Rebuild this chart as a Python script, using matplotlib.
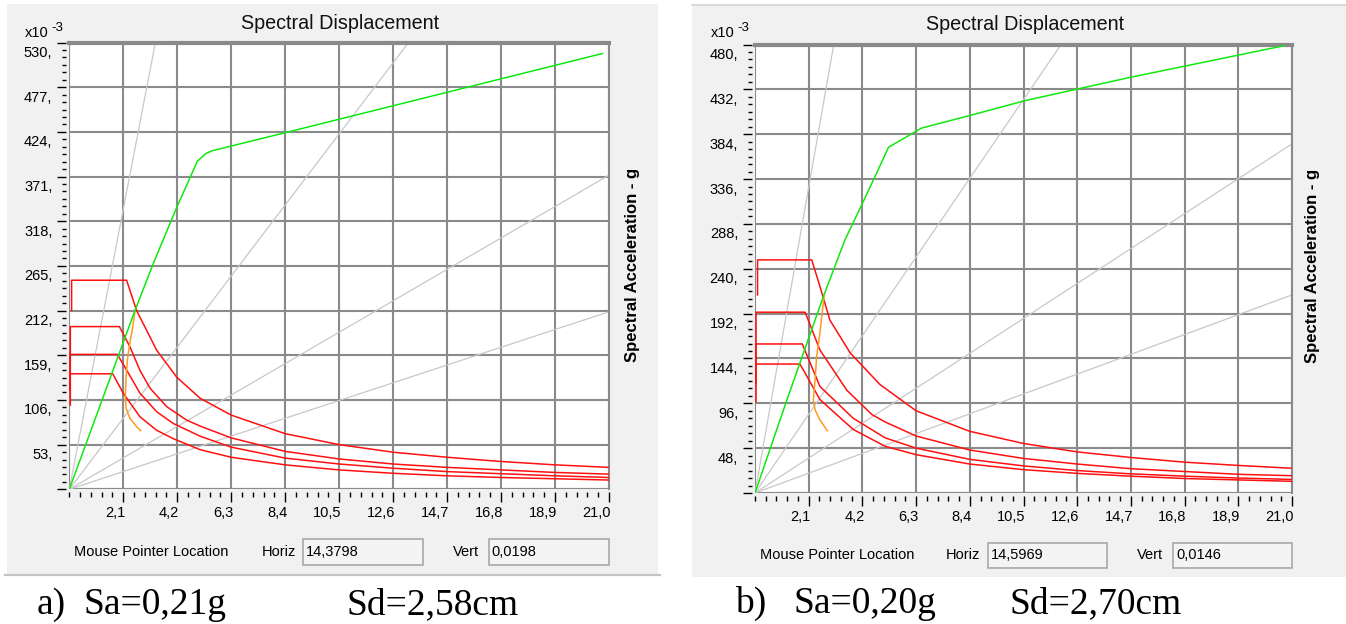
import matplotlib
matplotlib.use('Agg')
import matplotlib.pyplot as plt
import matplotlib.transforms as mtransforms
from matplotlib import font_manager
from matplotlib.patches import Rectangle
from matplotlib.lines import Line2D
from matplotlib.ticker import MultipleLocator

W, H = 1346, 624
PT = 0.72  # points per pixel at 100 dpi

# ---- values ----
# x = spectral displacement, y = spectral acceleration (x10^-3 g)
sd_ticks = [2.1, 4.2, 6.3, 8.4, 10.5, 12.6, 14.7, 16.8, 18.9, 21.0]
sd_labels = ['2,1', '4,2', '6,3', '8,4', '10,5', '12,6', '14,7', '16,8', '18,9', '21,0']
sa_ticks_a = [0, 53, 106, 159, 212, 265, 318, 371, 424, 477, 530]
sa_ticks_b = [0, 48, 96, 144, 192, 240, 288, 336, 384, 432, 480]

# capacity curves (green)
cap_sd_a = [0, 2.53, 3.27, 4.16, 4.98, 5.3, 5.55, 8.4, 20.75]
cap_sa_a = [0, 210, 268, 333, 389, 398, 401.5, 423, 517]
cap_sd_b = [0, 1.24, 2.67, 3.52, 4.27, 4.8, 5.22, 6.51, 8.74, 10.57, 14.7, 20.67]
cap_sa_b = [0, 99, 210, 271, 314, 345, 370, 390.5, 406.5, 420, 445, 478.6]

# demand spectra (red), four damping levels per panel
dem_a_sd = [
    [0.09, 0.09, 2.23, 2.62, 3.40, 4.18, 5.09, 6.3, 8.4, 10.5, 12.6, 14.7, 16.8, 18.9, 21.0],
    [0.04, 0.04, 1.95, 2.36, 2.75, 3.14, 3.79, 4.57, 5.09, 6.3, 8.4, 10.5, 12.6, 14.7, 16.8, 18.9, 21.0],
    [0.03, 0.03, 1.87, 2.2, 2.75, 3.40, 4.05, 5.09, 6.3, 8.4, 10.5, 12.6, 14.7, 16.8, 18.9, 21.0],
    [0.02, 0.02, 1.69, 2.10, 2.75, 3.40, 4.05, 5.09, 6.3, 8.4, 10.5, 12.6, 14.7, 16.8, 18.9, 21.0],
]
dem_a_sa = [
    [212, 248, 248, 212, 165, 133, 108, 88, 66, 53, 44, 38, 33, 29, 26],
    [100, 193, 193, 169, 141, 120, 98, 82, 75, 61, 45, 36, 30, 26, 23, 20, 18],
    [118, 160, 160, 143, 114, 92, 78, 63, 50, 37, 30, 25, 21, 18.5, 16, 14],
    [118, 137, 137, 114, 86, 70, 60, 47, 38, 29, 23, 19, 16, 14, 12.5, 11],
]
dem_b_sd = [
    [0.1, 0.1, 2.22, 2.54, 2.93, 3.72, 4.89, 6.3, 8.4, 10.5, 12.6, 14.7, 16.8, 18.9, 21.0],
    [0.04, 0.04, 1.96, 2.54, 3.59, 4.57, 5.09, 6.3, 8.4, 10.5, 12.6, 14.7, 16.8, 18.9, 21.0],
    [0.03, 0.03, 1.85, 2.54, 3.84, 5.09, 6.3, 8.4, 10.5, 12.6, 14.7, 16.8, 18.9, 21.0],
    [0.02, 0.02, 1.76, 2.54, 3.84, 5.09, 6.3, 8.4, 10.5, 12.6, 14.7, 16.8, 18.9, 21.0],
]
dem_b_sa = [
    [212, 249.5, 249.5, 221, 185, 150, 116, 88, 66, 53, 44, 38, 33, 29.5, 26.5],
    [98, 193.5, 193.5, 153, 110, 84, 76, 61, 46, 37, 31, 26, 23, 20, 18.5],
    [118, 159.5, 159.5, 114, 80, 59, 48, 36, 29, 24, 20.5, 18, 16, 14.5],
    [118, 138, 138, 100, 68, 50, 41, 31, 25, 21, 18, 15.5, 14, 12.5],
]

# single demand spectrum (orange)
ora_sd_a = [2.56, 2.47, 2.33, 2.26, 2.21, 2.18, 2.21, 2.36, 2.62, 2.78]
ora_sa_a = [212.6, 192.8, 169, 153.3, 133.5, 109.8, 96, 84.2, 74.2, 69.5]
ora_sd_b = [2.70, 2.61, 2.52, 2.41, 2.35, 2.28, 2.35, 2.54, 2.83]
ora_sa_b = [210.2, 188.8, 167.3, 146, 121, 99.6, 88.9, 78.2, 66.7]

# constant period lines (gray), end points seen on the frame
per_end_a = [(3.35, 530), (13.2, 530), (21.0, 372.7), (21.0, 210.6)]
per_end_b = [(3.08, 480), (11.97, 480), (21.0, 373.7), (21.0, 212)]

info_a = ('14,3798', '0,0198')
info_b = ('14,5969', '0,0146')
caption_a = ['a)', 'Sa=0,21g', 'Sd=2,58cm']
caption_b = ['b)', 'Sa=0,20g', 'Sd=2,70cm']

names = {f.name for f in font_manager.fontManager.ttflist}
ui = 'Liberation Sans Narrow' if 'Liberation Sans Narrow' in names else 'Liberation Sans'
ui_size = 12 if ui == 'Liberation Sans Narrow' else 10.5


def fx(px):
    return px / W


def fy(py):
    return 1 - py / H


def box(x0, y0, x1, y1):
    return [x0 / W, 1 - y1 / H, (x1 - x0) / W, (y1 - y0) / H]


fig = plt.figure(figsize=(W / 100, H / 100), dpi=100)
fig.patch.set_facecolor('white')

# window backgrounds
fig.add_artist(Rectangle((fx(7), fy(574)), (658 - 7) / W, (574 - 4) / H,
                         transform=fig.transFigure, facecolor='#f1f1f1', edgecolor='none', zorder=-2))
fig.add_artist(Line2D([fx(5), fx(660)], [fy(575), fy(575)], transform=fig.transFigure,
                      color='#c4c4c4', lw=1.6, zorder=-1))
fig.add_artist(Rectangle((fx(692), fy(577)), (1346 - 692) / W, (577 - 5) / H,
                         transform=fig.transFigure, facecolor='#f1f1f1', edgecolor='none', zorder=-2))
fig.add_artist(Line2D([fx(692), fx(1346)], [fy(4.5), fy(4.5)], transform=fig.transFigure,
                      color='#d4d4d4', lw=1.2, zorder=-1))


def draw_panel(rect, ymax, yticks, cap_sd, cap_sa, dem_sd, dem_sa, ora_sd, ora_sa, per_end):
    ax = fig.add_axes(box(*rect))
    ax.set_facecolor('white')

    # spines first: set_position resets the ticks
    for side in ['left', 'bottom']:
        ax.spines[side].set_position(('outward', 3 * PT))
        ax.spines[side].set_color('none')
    ax.spines['top'].set_color('#8a8a8a')
    ax.spines['top'].set_linewidth(3)
    ax.spines['right'].set_color('#8a8a8a')
    ax.spines['right'].set_linewidth(1.5)

    ax.set_xlim(0, 21.0)
    ax.set_ylim(0, ymax)

    for (xe, ye) in per_end:
        ax.plot([0, xe], [0, ye], color='#c8c8c8', lw=0.9, zorder=2)
    for xs, ys in zip(dem_sd, dem_sa):
        ax.plot(xs, ys, color='#ff1010', lw=1.1, zorder=3)
    ax.plot(ora_sd, ora_sa, color='#ff9a20', lw=1.1, zorder=4)
    ax.plot(cap_sd, cap_sa, color='#10e810', lw=1.1, zorder=5)

    ax.grid(True, which='major', color='#8a8a8a', lw=1.5)
    ax.set_axisbelow(True)
    ax.axvline(0, color='#8a8a8a', lw=1.5, zorder=1)
    ax.axhline(0, color='#8a8a8a', lw=1.5, zorder=1)

    ax.set_xticks(sd_ticks)
    ax.set_xticklabels(sd_labels, ha='right', family=ui, fontsize=ui_size)
    ax.xaxis.set_minor_locator(MultipleLocator(0.42))
    ax.set_yticks(yticks)
    ax.set_yticklabels([''] + ['%d,' % v for v in yticks[1:]], family=ui, fontsize=ui_size)
    ax.yaxis.set_minor_locator(MultipleLocator(yticks[1] / 6))
    ax.tick_params(axis='x', which='major', length=10 * PT, width=1, pad=3)
    ax.tick_params(axis='x', which='minor', length=5 * PT, width=1)
    ax.tick_params(axis='y', which='major', length=9 * PT, width=1, pad=3.5)
    ax.tick_params(axis='y', which='minor', length=4 * PT, width=1)

    # labels sit just under their grid line, as in the SAP2000 window
    off = mtransforms.ScaledTranslation(0, -0.09, fig.dpi_scale_trans)
    for lbl in ax.get_yticklabels():
        lbl.set_transform(lbl.get_transform() + off)
    offx = mtransforms.ScaledTranslation(0.02, 0, fig.dpi_scale_trans)
    for lbl in ax.get_xticklabels():
        lbl.set_transform(lbl.get_transform() + offx)
    return ax


draw_panel((69.3, 42.5, 609, 489.3), 530, sa_ticks_a, cap_sd_a, cap_sa_a,
           dem_a_sd, dem_a_sa, ora_sd_a, ora_sa_a, per_end_a)
draw_panel((755, 44.5, 1292, 493), 480, sa_ticks_b, cap_sd_b, cap_sa_b,
           dem_b_sd, dem_b_sa, ora_sd_b, ora_sa_b, per_end_b)

# titles, units and side labels
for cx, cy in [(340, 23.5), (1025, 25)]:
    fig.text(fx(cx), fy(cy), 'Spectral Displacement', ha='center', va='center',
             family='Liberation Sans', fontsize=14.2, color='#111111')
for x10, y10 in [(25, 33), (711, 33)]:
    fig.text(fx(x10), fy(y10), 'x10', ha='left', va='center', family=ui, fontsize=ui_size)
    fig.text(fx(x10 + 26), fy(y10 - 5), '-3', ha='left', va='center', family=ui, fontsize=ui_size - 1)
for sx, sy in [(632, 265), (1313, 266)]:
    fig.text(fx(sx), fy(sy), 'Spectral Acceleration - g', rotation=90, ha='center', va='center',
             family='Liberation Sans', fontsize=12, fontweight='bold')

# mouse pointer location row
rows = [
    (551.7, 74.3, 261.4, (303.3, 539.3, 422.8, 565), 453, (488.6, 539.3, 609, 565), info_a),
    (555.0, 759.7, 946, (988, 542.7, 1107, 567.7), 1136.6, (1173, 542.7, 1292, 567.7), info_b),
]
for yc, xm, xh, hb, xv, vb, info in rows:
    fig.text(fx(xm), fy(yc), 'Mouse Pointer Location', ha='left', va='center', family=ui, fontsize=ui_size)
    fig.text(fx(xh), fy(yc), 'Horiz', ha='left', va='center', family=ui, fontsize=ui_size)
    fig.text(fx(xv), fy(yc), 'Vert', ha='left', va='center', family=ui, fontsize=ui_size)
    for b, val in [(hb, info[0]), (vb, info[1])]:
        fig.add_artist(Rectangle((fx(b[0]), fy(b[3])), (b[2] - b[0]) / W, (b[3] - b[1]) / H,
                                 transform=fig.transFigure, facecolor='#f4f4f4',
                                 edgecolor='#a8a8a8', lw=1.2))
        fig.text(fx(b[0] + 3), fy(yc), val, ha='left', va='center', family=ui, fontsize=ui_size)

# captions under the screenshots
for texts, xs, base in [(caption_a, [37, 84, 347], 614), (caption_b, [735, 793, 1010], 613)]:
    for t, x in zip(texts, xs):
        fig.text(fx(x), fy(base), t, ha='left', va='baseline',
                 family='Liberation Serif', fontsize=27)

fig.savefig('out.png', dpi=100)
